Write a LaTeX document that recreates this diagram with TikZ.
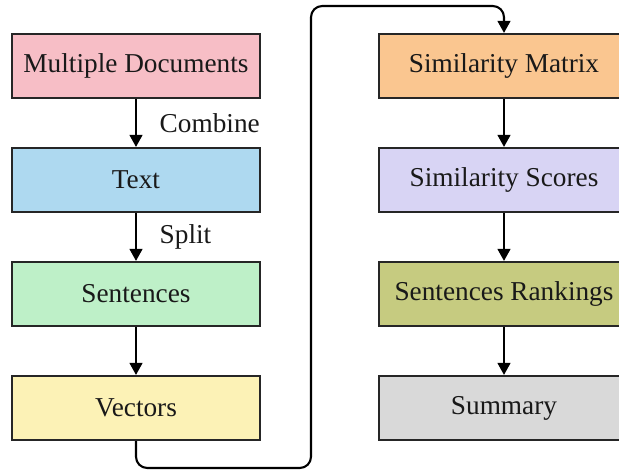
\documentclass[tikz,border=0pt]{standalone}
\usepackage{fontspec}
\setmainfont{Liberation Serif}
\usetikzlibrary{arrows.meta}

\definecolor{docpink}{HTML}{F7BEC6}
\definecolor{textblue}{HTML}{AED9F0}
\definecolor{sentgreen}{HTML}{BEF0C8}
\definecolor{vecyellow}{HTML}{FCF2B6}
\definecolor{matorange}{HTML}{FAC690}
\definecolor{scorelilac}{HTML}{D8D4F4}
\definecolor{rankolive}{HTML}{C6CB80}
\definecolor{sumgray}{HTML}{D9D9D9}

\begin{document}
\begin{tikzpicture}[
        x=0.025cm,
        y=0.025cm,
        every node/.style={font=\fontsize{19.4}{23}\selectfont, text=black!90},
        stagebox/.style={
            draw=black!85,
            line width=1.5pt,
            minimum width=6.2cm,
            minimum height=1.6cm,
            inner sep=0pt
        },
        widebox/.style={
            stagebox,
            minimum width=6.25cm
        },
        flow/.style={
            line width=1.5pt,
            -{Triangle[width=9pt,length=8.5pt]}
        }
    ]
        \useasboundingbox (0,0) rectangle (619,470);

        % Left column: x=12..260, center=136
        \node[stagebox, fill=docpink]    (docs) at (136,404) {Multiple Documents};
        \node[stagebox, fill=textblue]   (text) at (136,290) {Text};
        \node[stagebox, fill=sentgreen]  (sent) at (136,176) {Sentences};
        \node[stagebox, fill=vecyellow]  (vec)  at (136,62)  {Vectors};

        % Right column: center=504, runs past the right edge
        \node[widebox, fill=matorange]   (mat)   at (504,404) {Similarity Matrix};
        \node[widebox, fill=scorelilac]  (score) at (504,290) {Similarity Scores};
        \node[widebox, fill=rankolive]   (rank)  at (504,176) {Sentences Rankings};
        \node[widebox, fill=sumgray]     (sum)   at (504,62)  {Summary};

        % Arrows down the left column
        \draw[flow] (docs) -- node[midway, right=0.45cm] (combine) {Combine} (text);
        \draw[flow] (text) -- node[midway, right=0.45cm] (split) {Split} (sent);
        \draw[flow] (sent) -- (vec);

        % Arrows down the right column
        \draw[flow] (mat) -- (score);
        \draw[flow] (score) -- (rank);
        \draw[flow] (rank) -- (sum);

        % Loop from Vectors over to Similarity Matrix
        \coordinate (loopbot) at (311,2);
        \coordinate (looptop) at (311,464);
        \draw[flow, rounded corners=0.28cm]
            (vec.south) |- (loopbot) -- (looptop) -| (mat.north);

    \end{tikzpicture}
\end{document}
